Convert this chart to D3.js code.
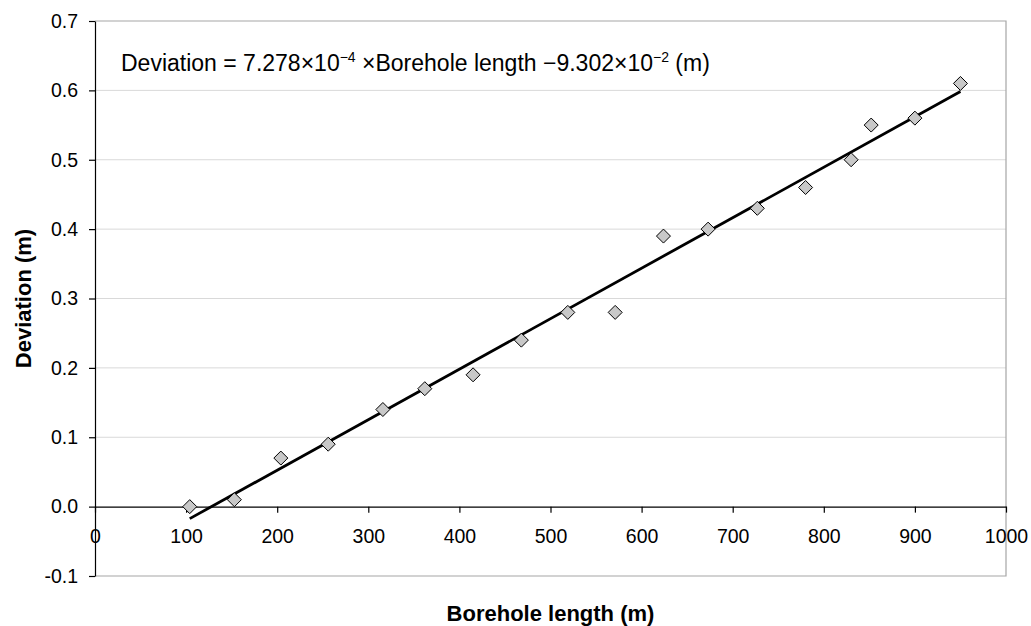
<!DOCTYPE html>
<html>
<head>
<meta charset="utf-8">
<script src="https://cdn.jsdelivr.net/npm/d3@7/dist/d3.min.js"></script>
<style>
  html, body { margin: 0; padding: 0; background: #fff; }
  svg { display: block; font-family: "Liberation Sans", Arial, sans-serif; }
</style>
</head>
<body>
<svg id="chart" width="1031" height="626"></svg>
<script>
// ---- data ----
const boreholeLength = [104, 153, 204, 256, 316, 362, 415, 468, 519, 571, 624, 673, 727, 780, 830, 852, 900, 950];
const deviation      = [0.00, 0.01, 0.07, 0.09, 0.14, 0.17, 0.19, 0.24, 0.28, 0.28, 0.39, 0.40, 0.43, 0.46, 0.50, 0.55, 0.56, 0.61];
const slope = 7.278e-4;
const intercept = -9.302e-2;
const xTicks = [0, 100, 200, 300, 400, 500, 600, 700, 800, 900, 1000];
const yTicks = [-0.1, 0, 0.1, 0.2, 0.3, 0.4, 0.5, 0.6, 0.7];
const xTitle = "Borehole length (m)";
const yTitle = "Deviation (m)";

// ---- layout ----
const L = 95, R = 1006, T = 21, B = 576;
const svg = d3.select("#chart");
const x = d3.scaleLinear().domain([0, 1000]).range([L, R]);
const y = d3.scaleLinear().domain([-0.1, 0.7]).range([B, T]);

// gridlines
svg.append("g").selectAll("line")
  .data(yTicks.filter(d => d > 0.05 && d < 0.65))
  .join("line")
  .attr("x1", L).attr("x2", R)
  .attr("y1", d => y(d)).attr("y2", d => y(d))
  .attr("stroke", "#d9d9d9").attr("stroke-width", 1);

// plot border (top, right, bottom)
svg.append("path")
  .attr("d", `M${L},${y(0.7)}H${R}V${y(-0.1)}H${L}`)
  .attr("fill", "none").attr("stroke", "#a6a6a6").attr("stroke-width", 1.2);

// y axis
const yAxis = svg.append("g")
  .attr("transform", `translate(${L},0)`)
  .call(d3.axisLeft(y).tickValues(yTicks).tickFormat(d => d.toFixed(1)).tickSize(6).tickPadding(11).tickSizeOuter(0));
yAxis.select(".domain").attr("stroke", "#000").attr("stroke-width", 1.2);
yAxis.selectAll(".tick line").attr("stroke", "#000").attr("stroke-width", 1.2);
yAxis.selectAll("text").attr("font-size", 19.5).attr("fill", "#000")
  .attr("font-family", "'Liberation Sans', Arial, sans-serif");

// x axis at y = 0
const xAxis = svg.append("g")
  .attr("transform", `translate(0,${y(0)})`)
  .call(d3.axisBottom(x).tickValues(xTicks).tickFormat(d3.format("d")).tickSize(6).tickPadding(17).tickSizeOuter(0));
xAxis.select(".domain").attr("stroke", "#000").attr("stroke-width", 1.2);
xAxis.selectAll(".tick line").attr("stroke", "#000").attr("stroke-width", 1.2);
xAxis.selectAll("text").attr("font-size", 19.5).attr("fill", "#000")
  .attr("font-family", "'Liberation Sans', Arial, sans-serif");

// trendline
const x0 = d3.min(boreholeLength), x1 = d3.max(boreholeLength);
svg.append("line")
  .attr("x1", x(x0)).attr("y1", y(slope * x0 + intercept))
  .attr("x2", x(x1)).attr("y2", y(slope * x1 + intercept))
  .attr("stroke", "#000").attr("stroke-width", 2.8);

// points (diamonds)
const pts = boreholeLength.map((d, i) => [d, deviation[i]]);
svg.append("g").selectAll("path")
  .data(pts)
  .join("path")
  .attr("transform", d => `translate(${x(d[0])},${y(d[1])})`)
  .attr("d", "M0,-7L7,0L0,7L-7,0Z")
  .attr("fill", "#c8c8c8").attr("stroke", "#000").attr("stroke-width", 1);

// equation
const eq = svg.append("text")
  .attr("x", 121).attr("y", 71)
  .attr("font-size", 23).attr("fill", "#000");
eq.append("tspan").text("Deviation = 7.278×10");
eq.append("tspan").attr("font-size", 14).attr("dy", -9).text("−4");
eq.append("tspan").attr("dy", 9).text(" ×Borehole length −9.302×10");
eq.append("tspan").attr("font-size", 14).attr("dy", -9).text("−2");
eq.append("tspan").attr("dy", 9).text(" (m)");

// axis titles
svg.append("text")
  .attr("x", (L + R) / 2).attr("y", 621)
  .attr("text-anchor", "middle").attr("font-size", 22).attr("font-weight", "bold")
  .text(xTitle);
svg.append("text")
  .attr("transform", `translate(31,${(T + B) / 2}) rotate(-90)`)
  .attr("text-anchor", "middle").attr("font-size", 22).attr("font-weight", "bold")
  .text(yTitle);
</script>
</body>
</html>
